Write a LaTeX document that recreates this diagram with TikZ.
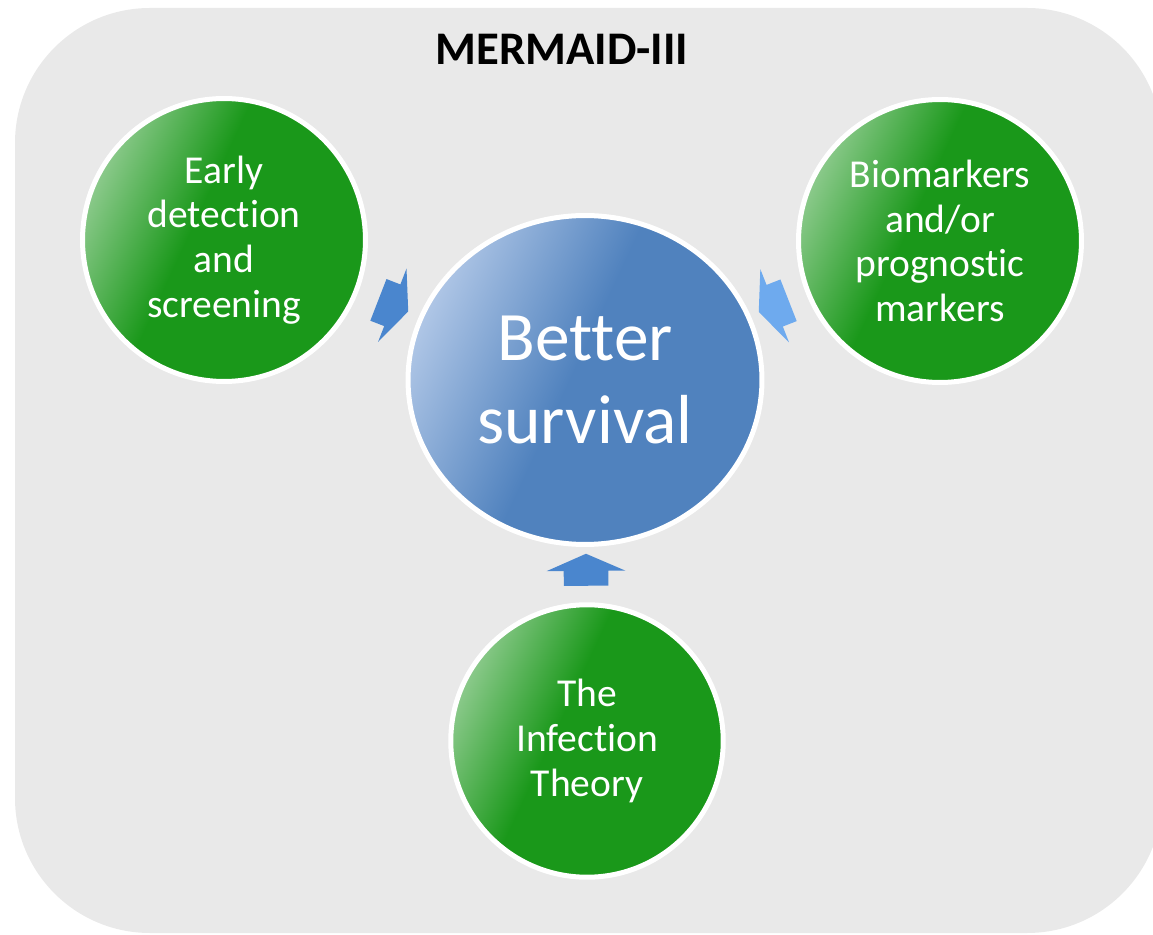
\documentclass[tikz,border=0pt]{standalone}
\usepackage{fontspec}
\setmainfont{Carlito}[Ligatures=NoCommon]
\usetikzlibrary{shapes.geometric,shapes.arrows}

\definecolor{panelgray}{RGB}{233,233,233}
\definecolor{greenlight}{RGB}{140,202,140}
\definecolor{greendark}{RGB}{26,152,26}
\definecolor{bluelight}{RGB}{175,198,230}
\definecolor{bluedark}{RGB}{80,130,190}
\definecolor{arrowblue}{RGB}{74,134,206}
\definecolor{arrowlight}{RGB}{110,170,238}

\pgfdeclarehorizontalshading{greenball}{100bp}{color(0bp)=(greenlight); color(25bp)=(greenlight);
  color(44bp)=(greendark); color(100bp)=(greendark)}
\pgfdeclarehorizontalshading{blueball}{100bp}{color(0bp)=(bluelight); color(25bp)=(bluelight);
  color(48bp)=(bluedark); color(100bp)=(bluedark)}

\tikzset{
  topic/.style={circle, draw=white, line width=0.1cm, inner sep=0pt,
    shading=greenball, shading angle=-25,
    text=white, align=center, font=\fontsize{22.5}{25.5}\selectfont, minimum size=5.66cm},
  goal/.style={ellipse, draw=white, line width=0.1cm, inner sep=0pt,
    shading=blueball, shading angle=-25,
    text=white, align=center, font=\fontsize{39.5}{47}\selectfont,
    minimum width=7.08cm, minimum height=6.58cm},
  pusher/.style={single arrow, draw=none, fill=arrowblue,
    inner xsep=0pt, inner ysep=0.44cm, minimum height=0.64cm,
    single arrow head extend=0.34cm, single arrow tip angle=133,
    sloped, allow upside down},
}

\begin{document}
\begin{tikzpicture}[x=0.02cm, y=-0.02cm]
  \useasboundingbox (0,0) rectangle (1153,935);
  \fill[panelgray, rounded corners=2.7cm] (15,8) rectangle (1162,933);

  \node[font=\bfseries\fontsize{26.6}{32}\selectfont] (title) at (562,49) {MERMAID-III};

  \node[goal] (survival) at (585,380) {Better\\survival};
  \node[topic] (early) at (224,240) {Early\\detection\\and\\screening};
  \node[topic] (markers) at (940,241) {Biomarkers\\and/or\\prognostic\\markers};
  \node[topic, minimum size=5.45cm] (infection) at (587,741) {The\\Infection\\Theory};

  % arrows into the middle
  \path (early) -- node[pusher] (push1) {} (survival);
  \path (markers) -- node[pusher, fill=arrowlight] (push2) {} (survival);
  \path (infection) -- node[pusher] (push3) {} (survival);
\end{tikzpicture}
\end{document}
